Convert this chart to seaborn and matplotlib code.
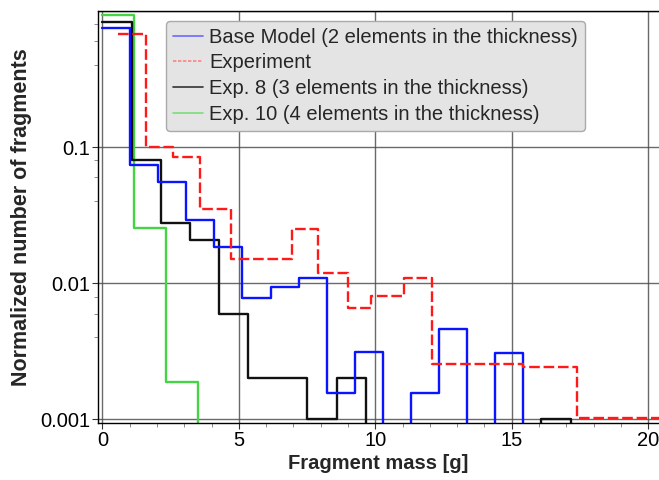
import numpy as np
import pandas as pd
import matplotlib
matplotlib.use("Agg")
import matplotlib.pyplot as plt
import seaborn as sns
from matplotlib.ticker import LogLocator, MultipleLocator, FixedLocator, NullFormatter, FixedFormatter
from matplotlib.lines import Line2D

# ---- data (bin edges in g, normalized counts) ----
base_edges = [0, 1.03, 2.05, 3.07, 4.10, 5.13, 6.17, 7.20, 8.22, 9.26, 10.27,
              11.31, 12.33, 13.37, 14.38, 15.42]
base_vals = [0.757, 0.0741, 0.0558, 0.0292, 0.0184, 0.00776, 0.00935, 0.0109,
             0.00157, 0.00314, 0, 0.00157, 0.00464, 0, 0.00309]

exp8_edges = [0, 1.07, 2.14, 3.21, 4.29, 5.35, 6.43, 7.51, 8.59, 9.65, 10.72,
              11.79, 12.86, 13.93, 15.00, 16.07, 17.17]
exp8_vals = [0.838, 0.0807, 0.0276, 0.0208, 0.00594, 0.0020, 0.0020, 0.0010,
             0.0020, 0, 0, 0, 0, 0, 0, 0.0010]

exp10_edges = [0, 1.17, 2.33, 3.49]
exp10_vals = [0.94, 0.0257, 0.00187]

expt_edges = [0.56, 1.60, 2.58, 3.58, 4.71, 6.94, 7.89, 9.01, 9.84, 11.06,
              12.07, 15.40, 17.40, 21.0]
expt_vals = [0.681, 0.100, 0.0853, 0.0350, 0.0152, 0.0250, 0.0120, 0.00655,
             0.0081, 0.0110, 0.00254, 0.00244, 0.00103]

labels = ["Base Model (2 elements in the thickness)", "Experiment",
          "Exp. 8 (3 elements in the thickness)", "Exp. 10 (4 elements in the thickness)"]
x_ticks = [0, 5, 10, 15, 20]
y_ticks = [0.001, 0.01, 0.1]
y_ticklabels = ["0.001", "0.01", "0.1"]


def step_frame(edges, vals, tail):
    y = list(vals) + [tail]
    return pd.DataFrame({"mass": edges, "frac": y})


sns.set_theme(style="white")
plt.rcParams["font.family"] = ["Liberation Sans", "DejaVu Sans"]

fig = plt.figure(figsize=(6.59, 4.80), dpi=100)
ax = fig.add_axes([0.1483, 0.1181, 0.8517, 0.8596])

blue = "#0a14ff"
red = "#ff1a1a"
green = "#44d444"
lw = 1.7

sns.lineplot(data=step_frame(exp10_edges, exp10_vals, 0), x="mass", y="frac",
             ax=ax, color=green, lw=lw, drawstyle="steps-post", sort=False, estimator=None)
sns.lineplot(data=step_frame(exp8_edges, exp8_vals, 0), x="mass", y="frac",
             ax=ax, color="#111111", lw=lw, drawstyle="steps-post", sort=False, estimator=None)
sns.lineplot(data=step_frame(base_edges, base_vals, 0), x="mass", y="frac",
             ax=ax, color=blue, lw=lw, drawstyle="steps-post", sort=False, estimator=None)
sns.lineplot(data=step_frame(expt_edges, expt_vals, expt_vals[-1]), x="mass", y="frac",
             ax=ax, color=red, lw=lw, drawstyle="steps-post", sort=False, estimator=None,
             dashes=False, linestyle=(0, (4.5, 1.6)))

ax.set_yscale("log")
ax.set_xlim(-0.17, 20.4)
ax.set_ylim(0.000935, 1.01)

ax.xaxis.set_major_locator(FixedLocator(x_ticks))
ax.xaxis.set_minor_locator(MultipleLocator(1))
ax.yaxis.set_major_locator(FixedLocator(y_ticks))
ax.yaxis.set_major_formatter(FixedFormatter(y_ticklabels))
ax.yaxis.set_minor_locator(LogLocator(base=10, subs=(4, 6, 8)))
ax.yaxis.set_minor_formatter(NullFormatter())

ax.grid(True, which="major", color="#505050", lw=1.0, alpha=0.85)
ax.axhline(1.0, color="#505050", lw=1.0, alpha=0.85)

ax.tick_params(axis="both", which="major", direction="out", length=4, width=0.8,
               colors="#333333", labelsize=14.5, labelcolor="black", pad=1.5,
               bottom=True, left=True)
ax.tick_params(axis="both", which="minor", direction="out", length=3, width=0.6,
               colors="#777777", bottom=True, left=True)

for s in ["left", "bottom", "top"]:
    ax.spines[s].set_color("black")
    ax.spines[s].set_linewidth(1.0)
ax.spines["right"].set_visible(False)

ax.set_xlabel("Fragment mass [g]", fontsize=14.5, fontweight="bold", labelpad=3)
ax.set_ylabel("Normalized number of fragments", fontsize=15.5, fontweight="bold", labelpad=6)

handles = [
    Line2D([], [], color="#6a6aff", lw=1.2),
    Line2D([], [], color="#ff8080", lw=1.2, linestyle=(0, (2, 1))),
    Line2D([], [], color="#333333", lw=1.2),
    Line2D([], [], color="#7adf7a", lw=1.2),
]
leg = ax.legend(handles, labels, loc="upper right", bbox_to_anchor=(0.868, 0.976),
                borderaxespad=0, fontsize=14.5, frameon=True, fancybox=True,
                facecolor="#e4e4e4", edgecolor="#aaaaaa", framealpha=1.0,
                handlelength=1.5, handletextpad=0.3, labelspacing=0.33,
                borderpad=0.35)
leg.get_frame().set_linewidth(1.0)

fig.savefig("out.png", dpi=100)
